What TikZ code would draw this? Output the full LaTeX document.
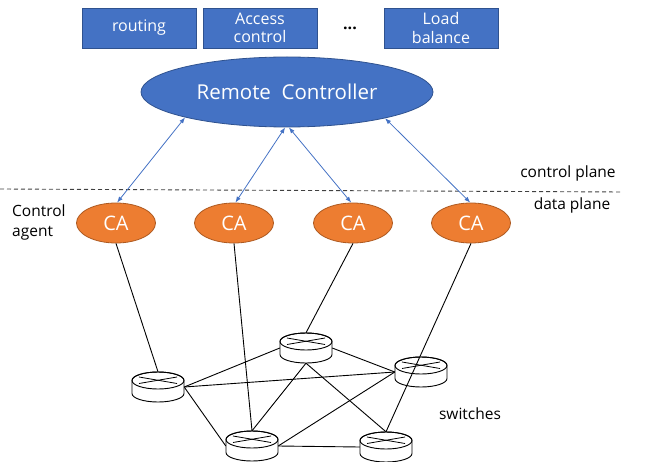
\documentclass[tikz,border=0pt]{standalone}
\usepackage{fontspec}
\setmainfont{Open Sans}
\usetikzlibrary{shapes.geometric,arrows.meta}
\definecolor{oblue}{HTML}{4472C4}
\definecolor{oblueD}{HTML}{2F528F}
\definecolor{oorange}{HTML}{ED7D31}
\definecolor{oorangeD}{HTML}{AE5A21}
\definecolor{dashgray}{HTML}{404040}
\begin{document}
\begin{tikzpicture}[x=1pt,y=-1pt,
  appbox/.style={rectangle,draw=oblueD,line width=0.8pt,fill=oblue,text=white,
    minimum width=114pt,minimum height=40pt,inner sep=1pt,align=center,
    font=\fontsize{16}{18.5}\selectfont},
  ctrl/.style={ellipse,draw=oblueD,line width=0.8pt,fill=oblue,text=white,
    minimum width=292pt,minimum height=70pt,inner sep=0pt,
    font=\fontsize{20.5}{22}\selectfont},
  agent/.style={ellipse,draw=oorangeD,line width=0.8pt,fill=oorange,text=white,
    minimum width=79pt,minimum height=40pt,inner sep=0pt,
    font=\fontsize{20}{22}\selectfont},
  switchbox/.style={rectangle,draw=none,minimum width=52pt,minimum height=30pt,inner sep=0pt},
  ctlarrow/.style={draw=oblue,line width=0.8pt,{Latex[length=6pt,width=4.5pt]}-{Latex[length=6pt,width=4.5pt]}},
  edge/.style={draw=black,line width=0.9pt},
  lbl/.style={font=\fontsize{15.5}{20}\selectfont,text=black,inner sep=0pt},
  swbody/.style={draw=black,line width=0.9pt,fill=white}
]
\useasboundingbox (0,0) rectangle (647,462);

% application boxes
\node[appbox] (routing) at (139,28) {routing};
\node[appbox] (access) at (260,28) {Access\\control};
\node[lbl,font=\fontsize{16}{18}\selectfont\bfseries] (dots) at (350,28) {...};
\node[appbox] (load) at (441,28) {Load\\balance};

% remote controller
\node[ctrl] (rc) at (287,92) {Remote\ \ Controller};

% plane divider
\coordinate (dl) at (0,189);
\coordinate (dr) at (622,192);
\draw[draw=dashgray,line width=0.9pt,dash pattern=on 4pt off 3pt] (dl) -- (dr);
\node[lbl] (cp) at (568,173) {control plane};
\node[lbl] (dp) at (572,205) {data plane};

% control agents
\node[agent] (ca1) at (116,223) {CA};
\node[agent] (ca2) at (234,223) {CA};
\node[agent] (ca3) at (353,223) {CA};
\node[agent] (ca4) at (471,223) {CA};
\node[lbl,anchor=west,align=left] (calbl) at (12,222) {Control\\agent};

% arrows
\draw[ctlarrow] (rc.194) -- (ca1.87);
\draw[ctlarrow] (rc.267) -- (ca2.86);
\draw[ctlarrow] (rc.273) -- (ca3.95);
\draw[ctlarrow] (rc.345.6) -- (ca4.92);

% switches (placeholders for anchors)
\node[switchbox] (s1) at (158,387) {};
\node[switchbox] (s2) at (306,348) {};
\node[switchbox] (s3) at (421,372) {};
\node[switchbox] (s4) at (252,446) {};
\node[switchbox] (s5) at (386,447) {};

% links
\draw[edge] (ca1.south) -- (s1.north);
\draw[edge] (ca2.south) -- (s4.north);
\draw[edge] (ca3.south) -- (s2.north);
\draw[edge] (s1.east) -- (s2.west);
\draw[edge] (s1.east) -- (s3.west);
\draw[edge] (s1.east) -- (s4.west);
\draw[edge] (s2.east) -- (s3.west);
\draw[edge] (s2.south) -- (s4.north);
\draw[edge] (s2.south) -- (s5.north);
\draw[edge] (s3.west) -- (s4.east);
\draw[edge] (s4.east) -- (s5.west);

% switch drawings
\foreach \s in {s1,s2,s3,s4,s5}{
  \begin{scope}[shift={(\s.center)}]
    \path[swbody] (-26,-6.5) -- (-26,6.5)
      arc[start angle=180,end angle=0,x radius=26,y radius=8.5]
      -- (26,-6.5)
      arc[start angle=0,end angle=-180,x radius=26,y radius=8.5] -- cycle;
    \draw[line width=0.9pt] (0,-6.5) ellipse[x radius=26,y radius=8.5];
    \draw[line width=0.8pt] (-19,-10) -- (19,-3.5);
    \draw[line width=0.8pt] (-19,-3.5) -- (19,-10);
  \end{scope}
}

% link drawn over a switch
\draw[edge] (ca4.south) -- (s5.north);

\node[lbl] (swlbl) at (470,414) {switches};
\end{tikzpicture}
\end{document}
